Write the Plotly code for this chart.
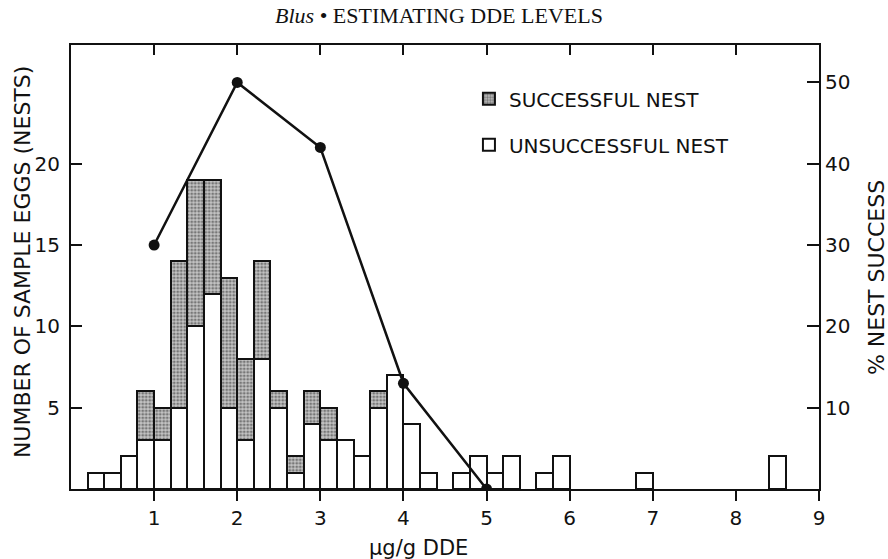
import plotly.graph_objects as go

# DDE residue classes (lower edge of each 0.2 ug/g class)
bin_lo = [0.2, 0.4, 0.6, 0.8, 1.0, 1.2, 1.4, 1.6, 1.8, 2.0, 2.2, 2.4, 2.6, 2.8,
          3.0, 3.2, 3.4, 3.6, 3.8, 4.0, 4.2, 4.6, 4.8, 5.0, 5.2, 5.6, 5.8, 6.8, 8.4]
bin_width = 0.2

# number of sample eggs (nests) per class
unsuccessful = [1, 1, 2, 3, 3, 5, 10, 12, 5, 3, 8, 5, 1, 4,
                3, 3, 2, 5, 7, 4, 1, 1, 2, 1, 2, 1, 2, 1, 2]
successful = [0, 0, 0, 3, 2, 9, 9, 7, 8, 5, 6, 1, 1, 2,
              2, 0, 0, 1, 0, 0, 0, 0, 0, 0, 0, 0, 0, 0, 0]

# percent nest success by 1 ug/g DDE level
dde_level = [1, 2, 3, 4, 5]
pct_success = [30, 50, 42, 13, 0]

x_ticks = [1, 2, 3, 4, 5, 6, 7, 8, 9]
left_ticks = [5, 10, 15, 20]
right_ticks = [10, 20, 30, 40, 50]

SANS = "DejaVu Sans"
SERIF = "Liberation Serif"
INK = "#111111"

fig = go.Figure()

fig.add_trace(go.Bar(
    x=bin_lo, y=unsuccessful, width=bin_width, offset=0,
    name="UNSUCCESSFUL NEST", legendgroup="u", legendrank=2,
    marker=dict(color="white", line=dict(color=INK, width=2)),
))
fig.add_trace(go.Bar(
    x=bin_lo, y=successful, width=bin_width, offset=0,
    name="SUCCESSFUL NEST", legendgroup="s", legendrank=1,
    marker=dict(color="#a0a0a0", line=dict(color=INK, width=2),
                pattern=dict(shape=".", size=3.5, solidity=0.5,
                             fgcolor="#2a2a2a", bgcolor="#c4c4c4")),
))
fig.add_trace(go.Scatter(
    x=dde_level, y=pct_success, xaxis="x2", yaxis="y2",
    mode="lines+markers", showlegend=False,
    line=dict(color=INK, width=2.5),
    marker=dict(color=INK, size=11),
))

tick_font = dict(family=SANS, size=20, color=INK)

fig.update_layout(
    width=888, height=559,
    margin=dict(l=71, r=69, t=45, b=70),
    paper_bgcolor="white", plot_bgcolor="white",
    barmode="stack", bargap=0,
    showlegend=True,
    legend=dict(x=0.532, y=0.923, xanchor="left", yanchor="top",
                font=dict(family=SANS, size=20, color=INK),
                traceorder="grouped", tracegroupgap=17,
                bgcolor="rgba(0,0,0,0)"),
    title=dict(text="<i>Blus</i> • ESTIMATING DDE LEVELS",
               font=dict(family=SERIF, size=22, color=INK),
               x=439 / 888, xref="container", xanchor="center",
               y=1 - 15 / 559, yref="container", yanchor="middle"),
    xaxis=dict(range=[0, 9], tickvals=x_ticks, ticks="outside", ticklen=10,
               tickwidth=1.5, tickcolor=INK, showline=True, linecolor=INK,
               linewidth=2, mirror=True, showgrid=False, zeroline=False,
               tickfont=tick_font),
    xaxis2=dict(range=[0, 9], overlaying="x", side="top", tickvals=x_ticks,
                ticks="inside", ticklen=10, tickwidth=1.5, tickcolor=INK,
                showticklabels=False, showline=False, showgrid=False,
                zeroline=False),
    yaxis=dict(range=[0, 27.3], tickvals=left_ticks, ticks="inside",
               ticklen=11, tickwidth=1.5, tickcolor=INK, showline=True,
               linecolor=INK, linewidth=2, mirror=True, showgrid=False,
               zeroline=False, tickfont=tick_font, ticklabelstandoff=5),
    yaxis2=dict(range=[0, 54.6], overlaying="y", side="right",
                tickvals=right_ticks, ticks="inside", ticklen=12,
                tickwidth=1.5, tickcolor=INK, showline=False, showgrid=False,
                zeroline=False, tickfont=tick_font, ticklabelstandoff=5),
    annotations=[
        dict(text="NUMBER OF SAMPLE EGGS (NESTS)", textangle=-90,
             xref="paper", yref="paper", x=(22 - 71) / 748, y=0.511,
             xanchor="center", yanchor="middle", showarrow=False,
             font=dict(family=SANS, size=22, color=INK)),
        dict(text="% NEST SUCCESS", textangle=-90,
             xref="paper", yref="paper", x=(876 - 71) / 748, y=0.475,
             xanchor="center", yanchor="middle", showarrow=False,
             font=dict(family=SANS, size=22, color=INK)),
        dict(text="μg/g DDE",
             xref="paper", yref="paper", x=(418 - 71) / 748, y=-0.133,
             xanchor="center", yanchor="middle", showarrow=False,
             font=dict(family=SANS, size=21, color=INK)),
    ],
)

fig.write_html("out.html")
